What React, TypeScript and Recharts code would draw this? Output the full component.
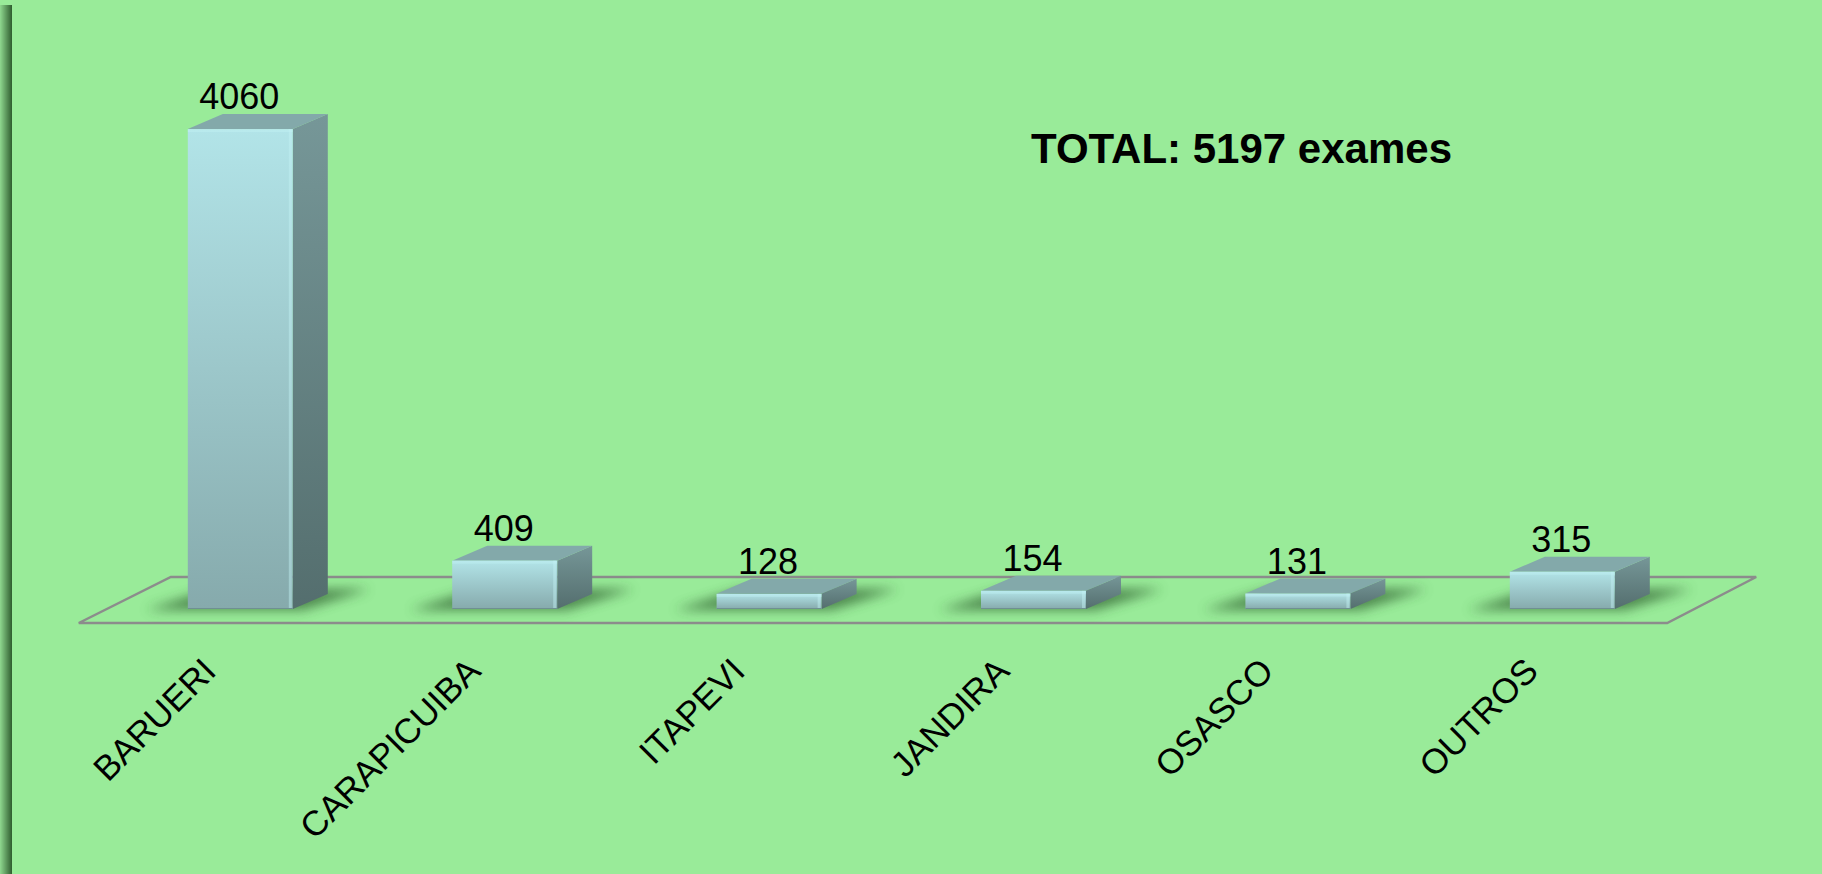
import React from 'react';
import { BarChart, Bar, XAxis, YAxis, LabelList } from 'recharts';

const categories = ['BARUERI', 'CARAPICUIBA', 'ITAPEVI', 'JANDIRA', 'OSASCO', 'OUTROS'];
const exames = [4060, 409, 128, 154, 131, 315];
const totalLabel = 'TOTAL: 5197 exames';

const data = categories.map((c, i) => ({ name: c, value: exames[i] }));

const W = 1822;
const H = 874;
const BG = '#99EB99';
const FONT = '"Liberation Sans", Arial, sans-serif';
const DX = 35;
const DY = 15;
const PLOT_LEFT = 107.8;
const PLOT_RIGHT = 1694.2;
const PLOT_TOP = 18;
const PLOT_BOTTOM = 609;

const Bar3D = (props: any) => {
  const { x, y, width, height } = props;
  if (width == null || height == null) return null;
  const w = width;
  const h = height;
  const b = y + h;
  const side = `${x + w},${y} ${x + w + DX},${y - DY} ${x + w + DX},${b - DY} ${x + w},${b}`;
  const top = `${x},${y} ${x + DX},${y - DY} ${x + w + DX},${y - DY} ${x + w},${y}`;
  const shadow = `${x - 42},${b + 1} ${x + w + 10},${b + 1} ${x + w + DX + 42},${b - DY - 5} ${x + DX - 10},${b - DY - 5}`;
  return (
    <g>
      <polygon points={shadow} fill="#2f5f2f" opacity={0.7} filter="url(#shadowBlur)" />
      <polygon points={side} fill="url(#sideGrad)" />
      <polygon points={top} fill="#83a9aa" />
      <rect x={x} y={y} width={w} height={h} fill="url(#frontGrad)" />
      <rect x={x + w - 4} y={y} width={3} height={h} fill="#c4f2f5" opacity={0.45} />
      <rect x={x} y={y} width={w} height={Math.min(3, h)} fill="#c4f2f5" opacity={0.4} />
      <line x1={x} y1={b - 0.5} x2={x + w} y2={b - 0.5} stroke="#6f9092" strokeWidth={1} />
    </g>
  );
};

const ValueLabel = (props: any) => {
  const { x, y, width, value } = props;
  return (
    <text x={x + width / 2 - 1} y={y - DY - 5} textAnchor="middle" fontFamily={FONT} fontSize={36} fill="#000">
      {value}
    </text>
  );
};

const CatTick = (props: any) => {
  const { x, y, payload } = props;
  const tx = x - 22;
  const ty = y + 64;
  return (
    <text
      x={tx}
      y={ty}
      transform={`rotate(-45, ${tx}, ${ty})`}
      textAnchor="end"
      fontFamily={FONT}
      fontSize={35}
      fill="#000"
    >
      {payload.value}
    </text>
  );
};

export default function App() {
  const floor = `${PLOT_LEFT - 29},${PLOT_BOTTOM + 14} ${PLOT_RIGHT - 27},${PLOT_BOTTOM + 14} ${PLOT_RIGHT + 62},${PLOT_BOTTOM - 32} ${PLOT_LEFT + 63},${PLOT_BOTTOM - 32}`;
  return (
    <div style={{ position: 'absolute', left: 0, top: 0, width: W, height: H, background: BG, overflow: 'hidden' }}>
      <div
        style={{
          position: 'absolute',
          left: 0,
          top: 5,
          width: 12,
          height: H - 5,
          background: 'linear-gradient(to right, #8fd88f, #2f5c2f)',
        }}
      />
      <svg width={W} height={H} style={{ position: 'absolute', left: 0, top: 0 }}>
        <polygon points={floor} fill="none" stroke="#8c8c8c" strokeWidth={2.5} />
        <text x={1031} y={163} fontFamily={FONT} fontWeight="bold" fontSize={42} fill="#000">
          {totalLabel}
        </text>
      </svg>
      <div style={{ position: 'absolute', left: 0, top: 0 }}>
        <BarChart
          width={W}
          height={H}
          data={data}
          margin={{ top: PLOT_TOP, right: W - PLOT_RIGHT, bottom: 0, left: PLOT_LEFT }}
          barCategoryGap={0}
        >
          <defs>
            <linearGradient id="frontGrad" x1="0" y1="0" x2="0" y2="1">
              <stop offset="0%" stopColor="#b2e4e8" />
              <stop offset="100%" stopColor="#86aaac" />
            </linearGradient>
            <linearGradient id="sideGrad" x1="0" y1="0" x2="0" y2="1">
              <stop offset="0%" stopColor="#769798" />
              <stop offset="100%" stopColor="#546e6e" />
            </linearGradient>
            <filter id="shadowBlur" x="-50%" y="-200%" width="200%" height="500%">
              <feGaussianBlur stdDeviation="6" />
            </filter>
          </defs>
          <XAxis
            dataKey="name"
            axisLine={false}
            tickLine={false}
            tickSize={0}
            tickMargin={0}
            height={H - PLOT_BOTTOM}
            interval={0}
            tick={<CatTick />}
          />
          <YAxis hide domain={[0, 5000]} />
          <Bar dataKey="value" barSize={105} shape={<Bar3D />} isAnimationActive={false}>
            <LabelList dataKey="value" content={<ValueLabel />} />
          </Bar>
        </BarChart>
      </div>
    </div>
  );
}
